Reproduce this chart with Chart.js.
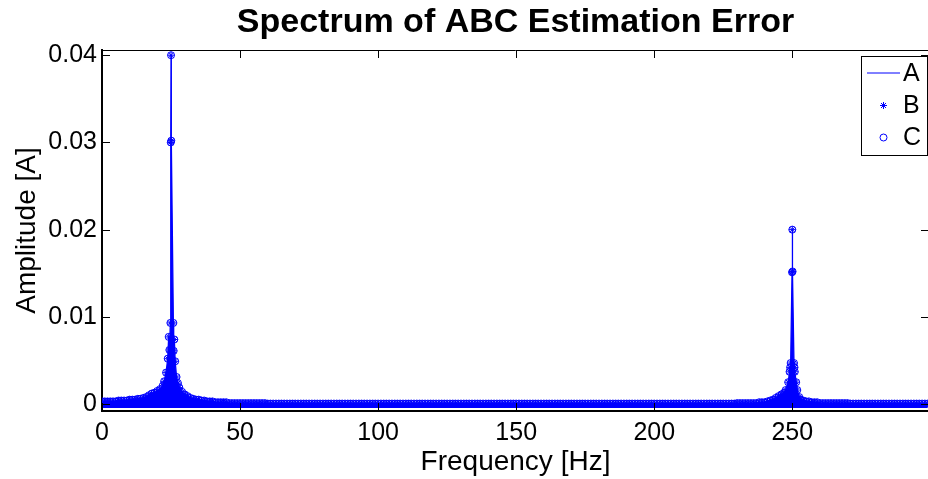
<!DOCTYPE html>
<html>
<head>
<meta charset="utf-8">
<script src="https://cdn.jsdelivr.net/npm/chart.js@4.4.1/dist/chart.umd.min.js"></script>
<style>
  html, body { margin: 0; padding: 0; background: #fff; overflow: hidden; }
  #wrap { width: 928px; height: 479px; overflow: hidden; }
</style>
</head>
<body>
<div id="wrap"><canvas id="spectrumChart" width="934" height="479"></canvas></div>
<script>
// Spectrum of ABC estimation error
const titleText = 'Spectrum of ABC Estimation Error';
const seriesNames = ['A', 'B', 'C'];
const xTicks = [0, 50, 100, 150, 200, 250];
const yTicks = [0, 0.01, 0.02, 0.03, 0.04];

const freqHz = [
  0, 1, 2, 3, 4, 5, 6, 7, 8, 9,
  10, 11, 12, 13, 14, 15, 16, 17, 18, 19,
  20, 21, 22, 22.5, 23.2, 23.8, 24.15, 24.4, 24.77, 24.9,
  25, 25.1, 25.85, 25.96, 26.2, 26.5, 27, 27.5, 28, 29,
  30, 31, 32, 33, 34, 35, 36, 37, 38, 39,
  40, 41, 42, 43, 44, 45, 46, 47, 48, 49,
  50, 51, 52, 53, 54, 55, 56, 57, 58, 59,
  60, 61, 62, 63, 64, 65, 66, 67, 68, 69,
  70, 71, 72, 73, 74, 75, 76, 77, 78, 79,
  80, 81, 82, 83, 84, 85, 86, 87, 88, 89,
  90, 91, 92, 93, 94, 95, 96, 97, 98, 99,
  100, 101, 102, 103, 104, 105, 106, 107, 108, 109,
  110, 111, 112, 113, 114, 115, 116, 117, 118, 119,
  120, 121, 122, 123, 124, 125, 126, 127, 128, 129,
  130, 131, 132, 133, 134, 135, 136, 137, 138, 139,
  140, 141, 142, 143, 144, 145, 146, 147, 148, 149,
  150, 151, 152, 153, 154, 155, 156, 157, 158, 159,
  160, 161, 162, 163, 164, 165, 166, 167, 168, 169,
  170, 171, 172, 173, 174, 175, 176, 177, 178, 179,
  180, 181, 182, 183, 184, 185, 186, 187, 188, 189,
  190, 191, 192, 193, 194, 195, 196, 197, 198, 199,
  200, 201, 202, 203, 204, 205, 206, 207, 208, 209,
  210, 211, 212, 213, 214, 215, 216, 217, 218, 219,
  220, 221, 222, 223, 224, 225, 226, 227, 228, 229,
  230, 231, 232, 233, 234, 235, 236, 237, 238, 239,
  240, 241, 242, 243, 244, 245, 246, 247, 247.6, 248.5,
  249, 249.2, 249.4, 249.9, 250, 250.1, 250.6, 250.8, 250.9, 251.4,
  251.8, 252.5, 253, 254, 255, 256, 257, 258, 259, 260,
  261, 262, 263, 264, 265, 266, 267, 268, 269, 270,
  271, 272, 273, 274, 275, 276, 277, 278, 279, 280,
  281, 282, 283, 284, 285, 286, 287, 288, 289, 290,
  291, 292, 293, 294, 295, 296, 297, 298, 299
];

const amplitude = [
  0.0003, 0.0003, 0.0003, 0.0003, 0.0003, 0.0003, 0.0004, 0.0004, 0.0004, 0.0004,
  0.0005, 0.0005, 0.0005, 0.0006, 0.0006, 0.0007, 0.0008, 0.0010, 0.0012, 0.0013,
  0.0015, 0.0017, 0.0021, 0.0026, 0.0036, 0.0052, 0.0077, 0.0062, 0.0093, 0.0300,
  0.0400, 0.0302, 0.0093, 0.0061, 0.0074, 0.0049, 0.0031, 0.0024, 0.0019, 0.0014,
  0.0011, 0.0009, 0.0007, 0.0006, 0.0005, 0.0005, 0.0004, 0.0004, 0.0003, 0.0003,
  0.0003, 0.0002, 0.0002, 0.0002, 0.0002, 0.0002, 0.0001, 0.0001, 0.0001, 0.0001,
  0.0001, 0.0001, 0.0001, 0.0001, 0.0001, 0.0001, 0.0001, 0.0001, 0.0001, 0.0001,
  0.00005, 0.00005, 0.00005, 0.00005, 0.00005, 0.00005, 0.00005, 0.00005, 0.00005, 0.00005,
  0.00005, 0.00005, 0.00005, 0.00005, 0.00005, 0.00005, 0.00005, 0.00005, 0.00005, 0.00005,
  0.00005, 0.00005, 0.00005, 0.00005, 0.00005, 0.00005, 0.00005, 0.00005, 0.00005, 0.00005,
  0.00005, 0.00005, 0.00005, 0.00005, 0.00005, 0.00005, 0.00005, 0.00005, 0.00005, 0.00005,
  0.00005, 0.00005, 0.00005, 0.00005, 0.00005, 0.00005, 0.00005, 0.00005, 0.00005, 0.00005,
  0.00005, 0.00005, 0.00005, 0.00005, 0.00005, 0.00005, 0.00005, 0.00005, 0.00005, 0.00005,
  0.00005, 0.00005, 0.00005, 0.00005, 0.00005, 0.00005, 0.00005, 0.00005, 0.00005, 0.00005,
  0.00005, 0.00005, 0.00005, 0.00005, 0.00005, 0.00005, 0.00005, 0.00005, 0.00005, 0.00005,
  0.00005, 0.00005, 0.00005, 0.00005, 0.00005, 0.00005, 0.00005, 0.00005, 0.00005, 0.00005,
  0.00005, 0.00005, 0.00005, 0.00005, 0.00005, 0.00005, 0.00005, 0.00005, 0.00005, 0.00005,
  0.00005, 0.00005, 0.00005, 0.00005, 0.00005, 0.00005, 0.00005, 0.00005, 0.00005, 0.00005,
  0.00005, 0.00005, 0.00005, 0.00005, 0.00005, 0.00005, 0.00005, 0.00005, 0.00005, 0.00005,
  0.00005, 0.00005, 0.00005, 0.00005, 0.00005, 0.00005, 0.00005, 0.00005, 0.00005, 0.00005,
  0.00005, 0.00005, 0.00005, 0.00005, 0.00005, 0.00005, 0.00005, 0.00005, 0.00005, 0.00005,
  0.00005, 0.00005, 0.00005, 0.00005, 0.00005, 0.00005, 0.00005, 0.00005, 0.00005, 0.00005,
  0.00005, 0.00005, 0.00005, 0.00005, 0.00005, 0.00005, 0.00005, 0.00005, 0.00005, 0.00005,
  0.00005, 0.00005, 0.00005, 0.00005, 0.00005, 0.00005, 0.00005, 0.00005, 0.00005, 0.00005,
  0.0001, 0.0001, 0.0001, 0.0001, 0.0001, 0.0001, 0.0001, 0.0001, 0.0002, 0.0002,
  0.0002, 0.0003, 0.0004, 0.0005, 0.0007, 0.0009, 0.0011, 0.0013, 0.0016, 0.0025,
  0.0037, 0.0042, 0.0047, 0.0151, 0.0200, 0.0152, 0.0047, 0.0042, 0.0037, 0.0025,
  0.0016, 0.0008, 0.0005, 0.0004, 0.0003, 0.0003, 0.0002, 0.0002, 0.0002, 0.0001,
  0.0001, 0.0001, 0.0001, 0.0001, 0.0001, 0.0001, 0.0001, 0.0001, 0.0001, 0.0001,
  0.00005, 0.00005, 0.00005, 0.00005, 0.00005, 0.00005, 0.00005, 0.00005, 0.00005, 0.00005,
  0.00005, 0.00005, 0.00005, 0.00005, 0.00005, 0.00005, 0.00005, 0.00005, 0.00005, 0.00005,
  0.00005, 0.00005, 0.00005, 0.00005, 0.00005, 0.00005, 0.00005, 0.00005, 0.00005
];

const blue = '#0000ff';
const fontFamily = '"Liberation Sans", Arial, Helvetica, sans-serif';
Chart.defaults.font.family = fontFamily;
Chart.defaults.color = '#000';

// separate point objects for each dataset
const makePoints = () => freqHz.map((f, i) => ({ x: f, y: amplitude[i] }));

// inward ticks, top/right frame, title and boxed legend (MATLAB look)
const matlabFrame = {
  id: 'matlabFrame',
  afterDatasetsDraw(chart) {
    const { ctx, chartArea: a, scales: { x, y } } = chart;
    ctx.save();
    ctx.strokeStyle = '#000';
    ctx.lineWidth = 1;
    ctx.beginPath();
    ctx.moveTo(a.left, a.top + 0.5);
    ctx.lineTo(a.right, a.top + 0.5);
    ctx.moveTo(a.right - 0.5, a.top);
    ctx.lineTo(a.right - 0.5, a.bottom);
    xTicks.forEach(v => {
      const px = Math.round(x.getPixelForValue(v)) + 0.5;
      ctx.moveTo(px, a.bottom);
      ctx.lineTo(px, a.bottom - 8);
      ctx.moveTo(px, a.top);
      ctx.lineTo(px, a.top + 8);
    });
    yTicks.forEach(v => {
      const py = Math.round(y.getPixelForValue(v)) + 0.5;
      ctx.moveTo(a.left, py);
      ctx.lineTo(a.left + 8, py);
      ctx.moveTo(a.right, py);
      ctx.lineTo(a.right - 8, py);
    });
    ctx.stroke();

    // title
    ctx.fillStyle = '#000';
    ctx.font = 'bold 34px ' + fontFamily;
    ctx.textAlign = 'center';
    ctx.textBaseline = 'middle';
    ctx.fillText(titleText, (a.left + a.right) / 2, 23);

    // legend
    const bx = 861.5, by = 56.5, bw = 66, bh = 99;
    ctx.fillStyle = '#fff';
    ctx.fillRect(bx, by, bw, bh);
    ctx.strokeRect(bx, by, bw, bh);
    const rows = [73, 105.5, 137.5];
    const mx = 883.5;
    ctx.strokeStyle = blue;
    ctx.lineWidth = 1;
    // A: line
    ctx.beginPath();
    ctx.moveTo(867, rows[0]);
    ctx.lineTo(900, rows[0]);
    ctx.stroke();
    // B: asterisk
    ctx.beginPath();
    for (let k = 0; k < 4; k++) {
      const ang = k * Math.PI / 4;
      ctx.moveTo(mx - 3.5 * Math.cos(ang), rows[1] - 3.5 * Math.sin(ang));
      ctx.lineTo(mx + 3.5 * Math.cos(ang), rows[1] + 3.5 * Math.sin(ang));
    }
    ctx.stroke();
    // C: open circle
    ctx.beginPath();
    ctx.arc(mx, rows[2], 3.5, 0, Math.PI * 2);
    ctx.stroke();
    ctx.fillStyle = '#000';
    ctx.font = '25px ' + fontFamily;
    ctx.textAlign = 'left';
    seriesNames.forEach((name, i) => ctx.fillText(name, 903, rows[i] + 1));
    ctx.restore();
  }
};

const ctx = document.getElementById('spectrumChart').getContext('2d');
const spectrumChart = new Chart(ctx, {
  type: 'line',
  data: {
    datasets: [{
      label: seriesNames[0],
      data: makePoints(),
      borderColor: blue,
      backgroundColor: blue,
      borderWidth: 1.3,
      pointRadius: 0,
      fill: { value: -0.00045 }
    }, {
      label: seriesNames[1],
      data: makePoints(),
      showLine: false,
      pointStyle: 'star',
      pointRadius: 3.5,
      borderColor: blue,
      backgroundColor: blue,
      borderWidth: 1
    }, {
      label: seriesNames[2],
      data: makePoints(),
      showLine: false,
      pointStyle: 'circle',
      pointRadius: 3.5,
      borderColor: blue,
      backgroundColor: 'rgba(0,0,0,0)',
      borderWidth: 1
    }]
  },
  options: {
    responsive: false,
    animation: false,
    layout: { padding: { top: 50, right: 3, left: 0, bottom: 0 } },
    plugins: {
      legend: { display: false },
      tooltip: { enabled: false },
      title: { display: false }
    },
    scales: {
      x: {
        type: 'linear',
        min: 0,
        max: 299.5,
        afterBuildTicks: s => { s.ticks = xTicks.map(v => ({ value: v })); },
        afterFit: s => { s.height = 68; },
        grid: { display: false, drawTicks: false },
        border: { display: true, color: '#000', width: 2 },
        ticks: { font: { size: 25 }, padding: 7, maxRotation: 0, autoSkip: false },
        title: { display: true, text: 'Frequency [Hz]', font: { size: 28 }, padding: { top: 0, bottom: 0 } }
      },
      y: {
        min: -0.0008,
        max: 0.0406,
        afterBuildTicks: s => { s.ticks = yTicks.map(v => ({ value: v })); },
        afterFit: s => { s.width = 102; },
        grid: { display: false, drawTicks: false },
        border: { display: true, color: '#000', width: 2 },
        ticks: { font: { size: 25 }, padding: 5, callback: v => String(v) },
        title: { display: true, text: 'Amplitude [A]', font: { size: 28 }, padding: { top: 10, bottom: 0 } }
      }
    }
  },
  plugins: [matlabFrame]
});
</script>
</body>
</html>
